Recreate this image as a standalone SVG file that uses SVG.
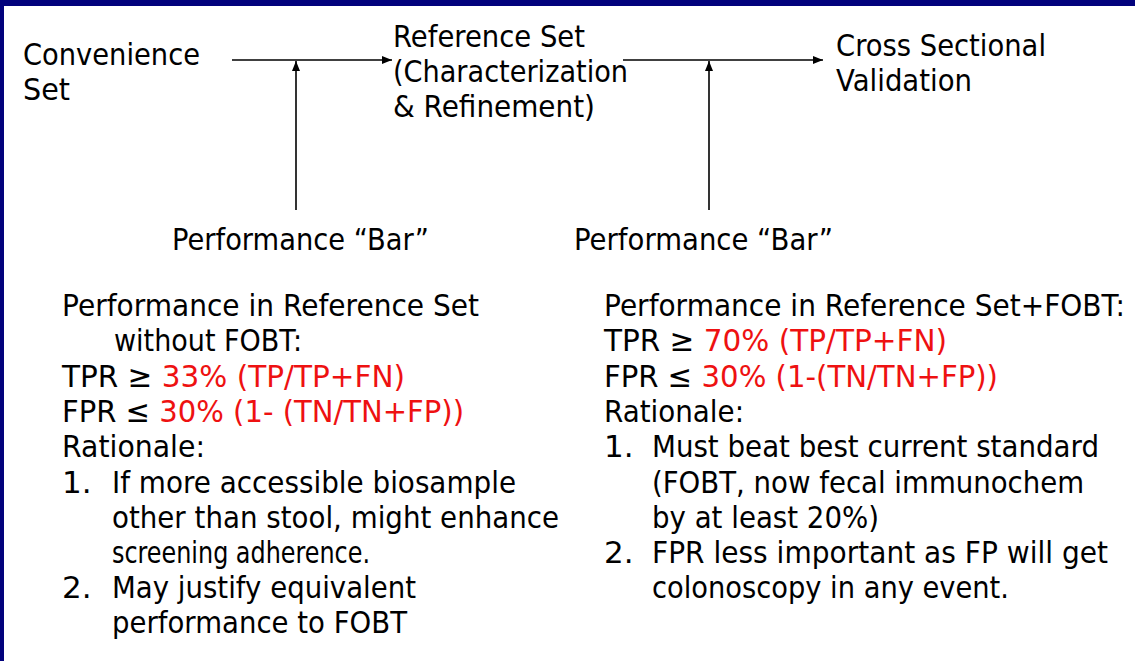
<svg xmlns="http://www.w3.org/2000/svg" width="1135" height="661" viewBox="0 0 1135 661">
  <style>
    text { font-family: "DejaVu Sans", "Liberation Sans", sans-serif; font-size: 31px; fill: #000; }
    .red { fill: #ee1111; }
    .conn { stroke: #000; stroke-width: 1.6; fill: none; }
  </style>
  <defs>
    <marker id="arrow" viewBox="0 0 10 8" refX="10" refY="4" markerWidth="10" markerHeight="8" markerUnits="userSpaceOnUse" orient="auto">
      <path d="M0,0 L10,4 L0,8 Z" fill="#000"/>
    </marker>
  </defs>

  <!-- slide frame -->
  <rect x="0" y="0" width="1135" height="661" fill="#ffffff"/>
  <rect x="0" y="0" width="1135" height="6" fill="#02027c"/>
  <rect x="0" y="0" width="4" height="661" fill="#02027c"/>

  <!-- stage nodes -->
  <g id="convenience-set">
    <text x="23" y="65" textLength="177" lengthAdjust="spacingAndGlyphs">Convenience</text>
    <text x="23" y="100" textLength="47" lengthAdjust="spacingAndGlyphs">Set</text>
  </g>
  <g id="reference-set">
    <text x="393" y="47" textLength="192" lengthAdjust="spacingAndGlyphs">Reference Set</text>
    <text x="393" y="82" textLength="235" lengthAdjust="spacingAndGlyphs">(Characterization</text>
    <text x="393" y="117" textLength="202" lengthAdjust="spacingAndGlyphs">&amp; Refinement)</text>
  </g>
  <g id="cross-sectional">
    <text x="836" y="56" textLength="210" lengthAdjust="spacingAndGlyphs">Cross Sectional</text>
    <text x="836" y="91" textLength="136" lengthAdjust="spacingAndGlyphs">Validation</text>
  </g>
  <g id="bar-1">
    <text x="172" y="250" textLength="257" lengthAdjust="spacingAndGlyphs">Performance &#8220;Bar&#8221;</text>
  </g>
  <g id="bar-2">
    <text x="574" y="250" textLength="259" lengthAdjust="spacingAndGlyphs">Performance &#8220;Bar&#8221;</text>
  </g>

  <!-- connectors -->
  <g id="connectors">
    <line class="conn" x1="232" y1="60" x2="392" y2="60" marker-end="url(#arrow)"/>
    <line class="conn" x1="296" y1="210" x2="296" y2="61" marker-end="url(#arrow)"/>
    <line class="conn" x1="623" y1="60" x2="823" y2="60" marker-end="url(#arrow)"/>
    <line class="conn" x1="709" y1="210" x2="709" y2="61" marker-end="url(#arrow)"/>
  </g>

  <!-- criteria without FOBT -->
  <g id="criteria-left">
    <text x="62" y="316" textLength="417" lengthAdjust="spacingAndGlyphs">Performance in Reference Set</text>
    <text x="114" y="351" textLength="188" lengthAdjust="spacingAndGlyphs">without FOBT:</text>
    <text x="62" y="387" textLength="343" lengthAdjust="spacingAndGlyphs">TPR &#8805; <tspan class="red">33% (TP/TP+FN)</tspan></text>
    <text x="62" y="422" textLength="402" lengthAdjust="spacingAndGlyphs">FPR &#8804; <tspan class="red">30% (1- (TN/TN+FP))</tspan></text>
    <text x="62" y="457" textLength="143" lengthAdjust="spacingAndGlyphs">Rationale:</text>
    <text x="62" y="493">1.</text>
    <text x="112" y="493" textLength="404" lengthAdjust="spacingAndGlyphs">If more accessible biosample</text>
    <text x="112" y="528" textLength="447" lengthAdjust="spacingAndGlyphs">other than stool, might enhance</text>
    <text x="112" y="563" textLength="258" lengthAdjust="spacingAndGlyphs">screening adherence.</text>
    <text x="62" y="598">2.</text>
    <text x="112" y="598" textLength="304" lengthAdjust="spacingAndGlyphs">May justify equivalent</text>
    <text x="112" y="633" textLength="295" lengthAdjust="spacingAndGlyphs">performance to FOBT</text>
  </g>

  <!-- criteria with FOBT -->
  <g id="criteria-right">
    <text x="604" y="316" textLength="521" lengthAdjust="spacingAndGlyphs">Performance in Reference Set+FOBT:</text>
    <text x="604" y="351" textLength="343" lengthAdjust="spacingAndGlyphs">TPR &#8805; <tspan class="red">70% (TP/TP+FN)</tspan></text>
    <text x="604" y="387" textLength="394" lengthAdjust="spacingAndGlyphs">FPR &#8804; <tspan class="red">30% (1-(TN/TN+FP))</tspan></text>
    <text x="604" y="422" textLength="140" lengthAdjust="spacingAndGlyphs">Rationale:</text>
    <text x="604" y="457">1.</text>
    <text x="652" y="457" textLength="447" lengthAdjust="spacingAndGlyphs">Must beat best current standard</text>
    <text x="652" y="493" textLength="432" lengthAdjust="spacingAndGlyphs">(FOBT, now fecal immunochem</text>
    <text x="652" y="528" textLength="227" lengthAdjust="spacingAndGlyphs">by at least 20%)</text>
    <text x="604" y="563">2.</text>
    <text x="652" y="563" textLength="456" lengthAdjust="spacingAndGlyphs">FPR less important as FP will get</text>
    <text x="652" y="598" textLength="357" lengthAdjust="spacingAndGlyphs">colonoscopy in any event.</text>
  </g>
</svg>
